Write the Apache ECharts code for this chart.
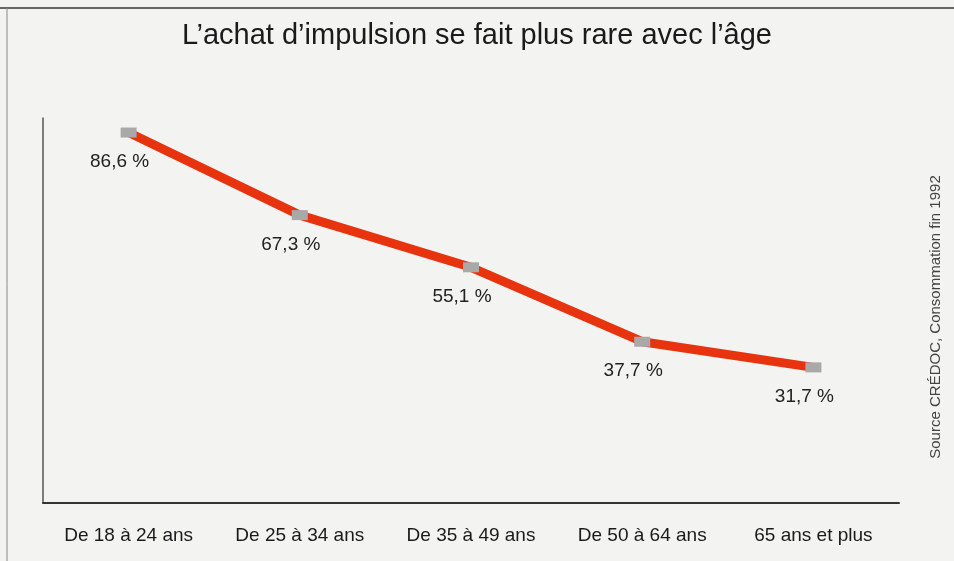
<!DOCTYPE html>
<html>
<head>
<meta charset="utf-8">
<script src="https://cdn.jsdelivr.net/npm/echarts@6/dist/echarts.min.js"></script>
<style>
html,body{margin:0;padding:0;background:#f3f3f1;}
#c{width:954px;height:561px;}
</style>
</head>
<body>
<div id="c"></div>
<script>
const categories = ["De 18 à 24 ans", "De 25 à 34 ans", "De 35 à 49 ans", "De 50 à 64 ans", "65 ans et plus"];
const values = [86.6, 67.3, 55.1, 37.7, 31.7];
const titleText = "L’achat d’impulsion se fait plus rare avec l’âge";
const sourceText = "Source CRÉDOC, Consommation fin 1992";

const chart = echarts.init(document.getElementById('c'));
chart.setOption({
  backgroundColor: '#f3f3f1',
  animation: false,
  title: {
    text: titleText,
    left: 'center',
    top: 16,
    textStyle: { fontFamily: 'Liberation Sans, Arial, sans-serif', fontSize: 29, fontWeight: 'normal', color: '#1a1a1a' }
  },
  grid: { left: 43, right: 55, top: 118, bottom: 58 },
  xAxis: {
    type: 'category',
    data: categories,
    boundaryGap: true,
    axisLine: { lineStyle: { color: '#333', width: 2 } },
    axisTick: { show: false },
    axisLabel: { margin: 23, fontFamily: 'Liberation Sans, Arial, sans-serif', fontSize: 19, color: '#1a1a1a' }
  },
  yAxis: {
    type: 'value',
    min: 0, max: 90,
    axisLine: { show: true, lineStyle: { color: '#555', width: 1.5 } },
    axisTick: { show: false },
    axisLabel: { show: false },
    splitLine: { show: false }
  },
  graphic: [
    { type: 'line', shape: { x1: 0, y1: 8, x2: 954, y2: 8 }, style: { stroke: '#666', lineWidth: 2 } },
    { type: 'line', shape: { x1: 7, y1: 8, x2: 7, y2: 561 }, style: { stroke: '#888', lineWidth: 1 } },
    { type: 'text', x: 936, y: 317, rotation: Math.PI / 2,
      style: { text: sourceText, font: '15px "Liberation Sans", Arial, sans-serif', fill: '#444', align: 'center', verticalAlign: 'middle' } }
  ],
  series: [{
    type: 'line',
    data: values,
    lineStyle: { color: '#e8330f', width: 9 },
    itemStyle: { color: '#a9a9a9' },
    symbol: 'rect',
    symbolSize: [16, 10],
    label: {
      show: true,
      position: 'bottom',
      offset: [-9, 10],
      formatter: p => String(p.value).replace('.', ',') + ' %',
      fontFamily: 'Liberation Sans, Arial, sans-serif',
      fontSize: 19,
      color: '#222'
    }
  }]
});
</script>
</body>
</html>
